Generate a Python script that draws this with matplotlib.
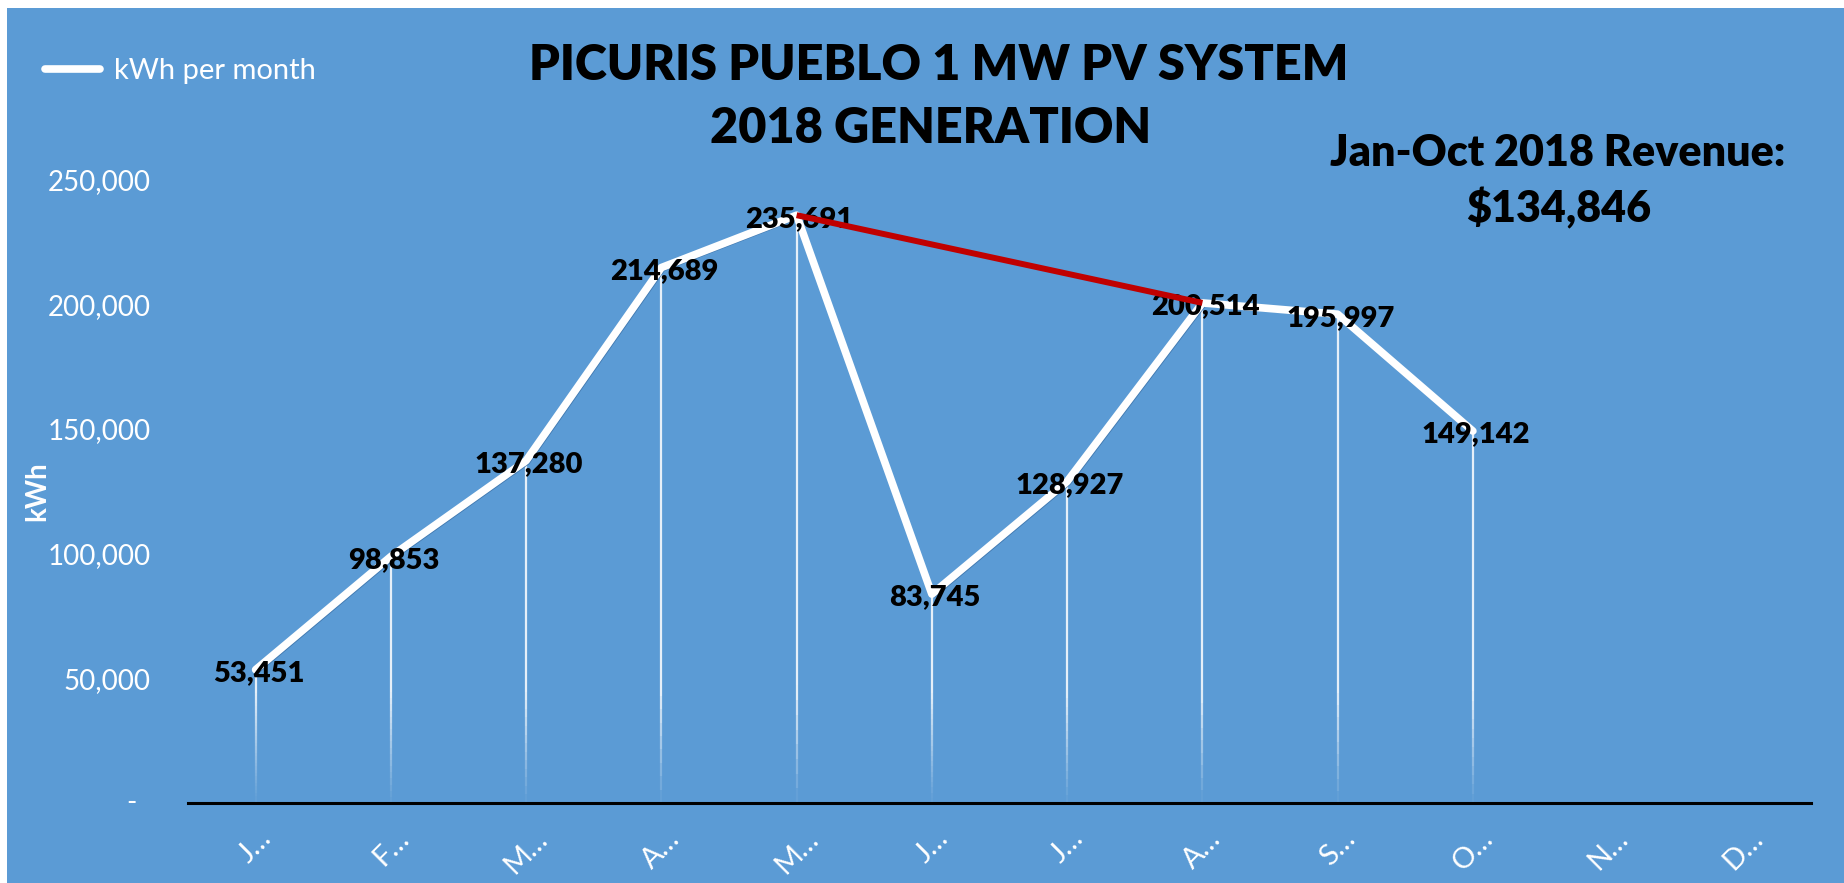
import numpy as np
import matplotlib.pyplot as plt
import matplotlib.transforms as mtransforms
from matplotlib.collections import LineCollection
from matplotlib.patches import Rectangle

# data
tick_labels = ["J…", "F…", "M…", "A…", "M…", "J…", "J…", "A…", "S…", "O…", "N…", "D…"]
kwh = [53451, 98853, 137280, 214689, 235691, 83745, 128927, 200514, 195997, 149142]
y_ticks = [50000, 100000, 150000, 200000, 250000]
red_idx = [4, 7]   # May -> Aug
title_lines = ["PICURIS PUEBLO 1 MW PV SYSTEM", "2018 GENERATION"]
revenue_lines = ["Jan-Oct 2018 Revenue:", "$134,846"]

W, H = 1844, 883
BLUE = "#5B9BD5"
plt.rcParams['font.family'] = ['Lato', 'DejaVu Sans']

fig = plt.figure(figsize=(W / 100, H / 100), dpi=100, facecolor='white')
fig.patches.append(Rectangle((7 / W, 0), 1 - 7 / W, 1 - 8 / H, transform=fig.transFigure,
                             facecolor=BLUE, edgecolor='none', zorder=-10))

ax = fig.add_axes([188 / W, 80 / H, 1623 / W, 623.5 / H])
ax.set_facecolor('none')
x = np.arange(len(kwh))
ax.set_xlim(-0.5, len(tick_labels) - 0.5)
ax.set_ylim(0, 250000)

# drop lines, fading toward the axis
segs, cols = [], []
for xi, v in zip(x, kwh):
    ys = np.linspace(0, v, 41)
    for a, b in zip(ys[:-1], ys[1:]):
        segs.append([(xi, a), (xi, b)])
        alpha = 0.85 * np.clip((a + b) / 2 / 45000, 0.05, 1)
        cols.append((1, 1, 1, alpha))
ax.add_collection(LineCollection(segs, colors=cols, linewidths=1.6, zorder=1))

# faint shadow under the line
shadow = mtransforms.offset_copy(ax.transData, fig=fig, x=3, y=-3, units='dots')
ax.plot(x, kwh, color='#3D72A8', lw=0.8, alpha=0.8, transform=shadow, zorder=2)

ax.plot(x, kwh, color='white', lw=5.5, solid_joinstyle='round', solid_capstyle='round',
        label='kWh per month', zorder=3)

for xi, v in zip(x, kwh):
    ax.annotate(f"{v:,}", (xi, v), xytext=(2, -2.5), textcoords='offset points',
                ha='center', va='center', fontsize=21, fontweight='heavy', color='black', zorder=4)

ax.plot([x[i] for i in red_idx], [kwh[i] for i in red_idx], color='#C00000', lw=4.3,
        solid_capstyle='butt', zorder=5)

# axes styling
for s in ['top', 'right', 'left']:
    ax.spines[s].set_visible(False)
ax.spines['bottom'].set_color('black')
ax.spines['bottom'].set_linewidth(2.2)
ax.set_xticks(np.arange(len(tick_labels)))
ax.set_xticklabels(tick_labels, rotation=45, ha='center', color='white', fontsize=21)
ax.set_yticks(y_ticks)
ax.set_yticklabels([f"{t:,}" for t in y_ticks], color='white', fontsize=20)
ax.tick_params(axis='x', length=0, pad=16)
ax.tick_params(axis='y', length=0, pad=27)
zero_tr = mtransforms.blended_transform_factory(fig.transFigure, ax.transData)
ax.text(131 / W, 0, "-", transform=zero_tr, ha='center', va='center', color='white', fontsize=20)

ax.set_ylabel('kWh', fontsize=20, fontweight='bold', color='white')
ax.yaxis.set_label_coords(-0.085, 0.5)

leg = ax.legend(loc='center left', bbox_to_anchor=(45 / W, 1 - 71 / H), bbox_transform=fig.transFigure,
                frameon=False, fontsize=21, labelcolor='white', handlelength=1.9,
                handletextpad=0.45, borderpad=0, borderaxespad=0)

fig.text(939 / W, 1 - 80 / H, title_lines[0], ha='center', va='baseline',
         fontsize=35, fontweight='heavy', color='black')
fig.text(931 / W, 1 - 143 / H, title_lines[1], ha='center', va='baseline',
         fontsize=35, fontweight='heavy', color='black')
fig.text(1558 / W, 1 - 166 / H, revenue_lines[0], ha='center', va='baseline',
         fontsize=31, fontweight='heavy', color='black')
fig.text(1559 / W, 1 - 222 / H, revenue_lines[1], ha='center', va='baseline',
         fontsize=31, fontweight='heavy', color='black')

fig.savefig('out.png', dpi=100, facecolor='white')
